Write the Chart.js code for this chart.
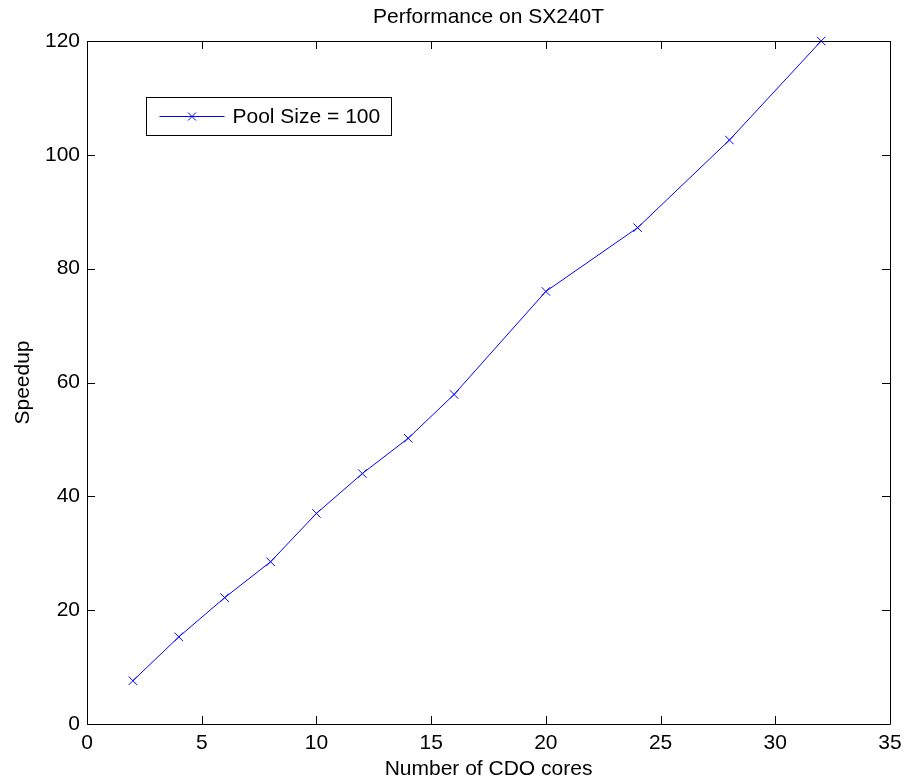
<!DOCTYPE html>
<html>
<head>
<meta charset="utf-8">
<script src="https://cdn.jsdelivr.net/npm/chart.js@4.4.1/dist/chart.umd.min.js"></script>
<style>
  html, body { margin: 0; padding: 0; background: #fff; }
  #wrap { width: 905px; height: 782px; }
</style>
</head>
<body>
<div id="wrap"><canvas id="speedupChart"></canvas></div>
<script>
const cores = [2, 4, 6, 8, 10, 12, 14, 16, 20, 24, 28, 32];
const speedup = [7.6, 15.3, 22.2, 28.5, 37.0, 44.0, 50.2, 57.9, 76.0, 87.2, 102.6, 120.0];
const seriesLabel = 'Pool Size = 100';
const xTicks = [0, 5, 10, 15, 20, 25, 30, 35];
const yTicks = [0, 20, 40, 60, 80, 100, 120];

const FONT = '"Liberation Sans", Arial, Helvetica, sans-serif';

// matlab-style box with inward ticks on all four sides
const axesBox = {
    id: 'axesBox',
    afterDatasetsDraw(chart) {
        const { ctx, chartArea: a, scales: { x, y } } = chart;
        const len = 8;
        ctx.save();
        ctx.strokeStyle = '#000';
        ctx.lineWidth = 1;
        ctx.beginPath();
        ctx.rect(Math.round(a.left) + 0.5, Math.round(a.top) + 0.5,
                 Math.round(a.right - a.left), Math.round(a.bottom - a.top));
        xTicks.forEach(v => {
            const px = Math.round(x.getPixelForValue(v)) + 0.5;
            ctx.moveTo(px, a.bottom); ctx.lineTo(px, a.bottom - len);
            ctx.moveTo(px, a.top); ctx.lineTo(px, a.top + len);
        });
        yTicks.forEach(v => {
            const py = Math.round(y.getPixelForValue(v)) + 0.5;
            ctx.moveTo(a.left, py); ctx.lineTo(a.left + len, py);
            ctx.moveTo(a.right, py); ctx.lineTo(a.right - len, py);
        });
        ctx.stroke();
        ctx.restore();
    }
};

// legend box in the upper left of the axes
const boxLegend = {
    id: 'boxLegend',
    afterDraw(chart) {
        const { ctx, chartArea: a } = chart;
        const ds = chart.data.datasets[0];
        const bx = Math.round(a.left + 59) + 0.5, by = Math.round(a.top + 56) + 0.5;
        const bw = 245, bh = 38;
        const my = by + bh / 2;
        ctx.save();
        ctx.fillStyle = '#fff';
        ctx.fillRect(bx, by, bw, bh);
        ctx.strokeStyle = '#000';
        ctx.lineWidth = 1;
        ctx.strokeRect(bx, by, bw, bh);
        ctx.strokeStyle = ds.borderColor;
        ctx.beginPath();
        ctx.moveTo(bx + 13, my); ctx.lineTo(bx + 78, my);
        const cx = bx + 45.5, r = 4;
        ctx.moveTo(cx - r, my - r); ctx.lineTo(cx + r, my + r);
        ctx.moveTo(cx - r, my + r); ctx.lineTo(cx + r, my - r);
        ctx.stroke();
        ctx.fillStyle = '#000';
        ctx.font = '21px ' + FONT;
        ctx.textBaseline = 'middle';
        ctx.fillText(ds.label, bx + 86, my + 1);
        ctx.restore();
    }
};

new Chart(document.getElementById('speedupChart'), {
    type: 'line',
    data: {
        datasets: [{
            label: seriesLabel,
            data: cores.map((c, i) => ({ x: c, y: speedup[i] })),
            borderColor: '#0000ff',
            backgroundColor: '#0000ff',
            borderWidth: 1,
            pointStyle: 'crossRot',
            pointRadius: 6,
            pointBorderWidth: 1,
            pointBorderColor: '#0000ff',
            fill: false,
            tension: 0,
            clip: false
        }]
    },
    options: {
        responsive: true,
        maintainAspectRatio: false,
        animation: false,
        layout: { padding: { left: 0, right: 15, top: 0, bottom: 0 } },
        plugins: {
            legend: { display: false },
            tooltip: { enabled: false },
            title: {
                display: true,
                fullSize: false,
                text: 'Performance on SX240T',
                color: '#000',
                font: { family: FONT, size: 21, weight: 'normal', lineHeight: 1 },
                padding: { top: 7, bottom: 13 }
            }
        },
        scales: {
            x: {
                type: 'linear',
                min: 0,
                max: 35,
                afterBuildTicks: s => { s.ticks = xTicks.map(v => ({ value: v })); },
                // let the last label hang into the right margin like matlab does
                afterFit: s => { s.paddingRight = 12; },
                ticks: { color: '#000', padding: 9, maxRotation: 0,
                         font: { family: FONT, size: 21, lineHeight: 1 } },
                grid: { display: false, drawTicks: false },
                border: { display: false },
                title: {
                    display: true,
                    text: 'Number of CDO cores',
                    color: '#000',
                    font: { family: FONT, size: 21, lineHeight: 1 },
                    padding: { top: -4, bottom: 2 }
                }
            },
            y: {
                type: 'linear',
                min: 0,
                max: 120,
                afterBuildTicks: s => { s.ticks = yTicks.map(v => ({ value: v })); },
                ticks: { color: '#000', padding: 7,
                         font: { family: FONT, size: 21, lineHeight: 1 } },
                grid: { display: false, drawTicks: false },
                border: { display: false },
                title: {
                    display: true,
                    text: 'Speedup',
                    color: '#000',
                    font: { family: FONT, size: 21, lineHeight: 1 },
                    padding: { top: 13, bottom: 4 }
                }
            }
        }
    },
    plugins: [axesBox, boxLegend]
});
</script>
</body>
</html>
